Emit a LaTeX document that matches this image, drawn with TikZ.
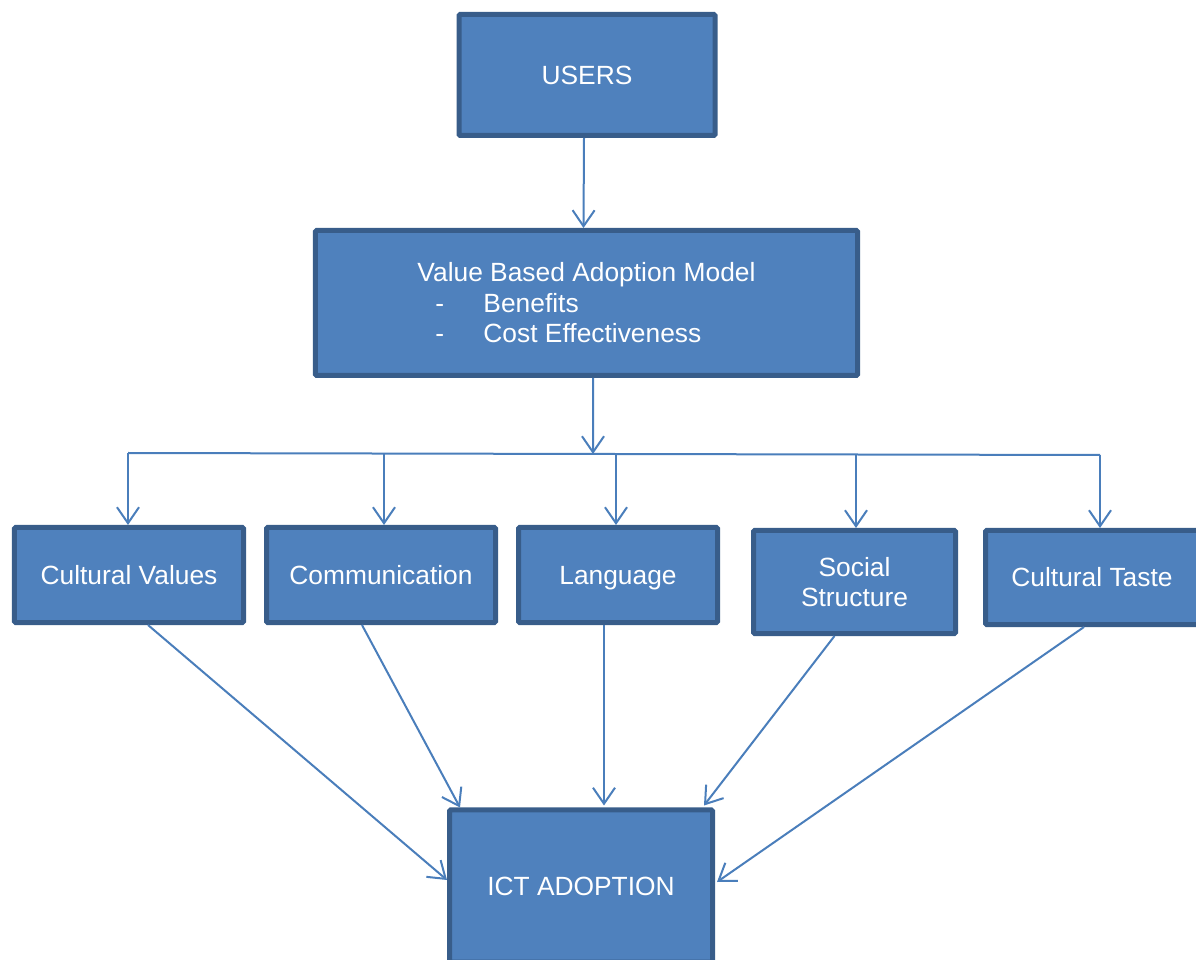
\documentclass[tikz,border=0pt]{standalone}
\usepackage{fontspec}
\setmainfont{Liberation Sans}
\usepackage{xcolor}
\usetikzlibrary{arrows.meta,positioning,calc}
\definecolor{boxfill}{HTML}{4F81BD}
\definecolor{boxline}{HTML}{385D8A}
\definecolor{linkblue}{HTML}{4A7EBB}

\begin{document}
\begin{tikzpicture}[x=0.2mm, y=-0.2mm, font=\fontsize{15}{17.4}\selectfont,
    blockbox/.style={draw=boxline, fill=boxfill, line width=1mm, rounded corners=0.6pt,
        text=white, align=center, inner sep=0pt},
    link/.style={draw=linkblue, line width=0.4mm},
    linkarrow/.style={link, -{Straight Barb[length=3.2mm, width=4.4mm]}}]
        \useasboundingbox (0,0) rectangle (1196,960);

        % Top of the model.
        \node[blockbox, minimum width=51.2mm, minimum height=24.2mm] (users) at (587,75) {USERS};
        \node[blockbox, align=left, minimum width=108.4mm, minimum height=29mm] (vbam) at (586.5,303)
        {Value Based Adoption Model\\
         \makebox[13.2mm][l]{\hspace{3.6mm}-}Benefits\\
         \makebox[13.2mm][l]{\hspace{3.6mm}-}Cost Effectiveness};

        % Cultural factors.
        \node[blockbox, minimum width=45.8mm, minimum height=19mm] (cv) at (129,575) {Cultural Values};
        \node[blockbox, minimum width=45.8mm, minimum height=19mm] (comm) at (381,575) {Communication};
        \node[blockbox, text depth=0pt, minimum width=39.8mm, minimum height=19mm] (lang) at (618,575) {Language};
        \node[blockbox, minimum width=40.4mm, minimum height=20.6mm] (social) at (854.5,582) {Social\\Structure};
        \node[blockbox, minimum width=42.6mm, minimum height=18.8mm] (taste) at (1092,577.5) {Cultural Taste};

        % Outcome.
        \node[blockbox, minimum width=52.6mm, minimum height=30.4mm] (ict) at (581,886) {ICT ADOPTION};

        % Users into the model.
        \draw[linkarrow] ($(users.south)+(-3,0)$) -- ($(vbam.north)+(-3,0)$);

        % Model down to the bus line.
        \coordinate (hub) at (593,454);
        \coordinate (busL) at (128,453);
        \coordinate (busR) at (1100,455);
        \draw[linkarrow] ($(vbam.south)+(6.5,0)$) -- (hub);
        \draw[link] (busL) -- (busR);

        % Bus line to each factor.
        \coordinate (tapB) at (384,453.5);
        \coordinate (tapC) at (616,454);
        \coordinate (tapD) at (856,454.5);
        \draw[linkarrow] (busL) -- (busL |- cv.north);
        \draw[linkarrow] (tapB) -- (tapB |- comm.north);
        \draw[linkarrow] (tapC) -- (tapC |- lang.north);
        \draw[linkarrow] (tapD) -- (tapD |- social.north);
        \draw[linkarrow] (busR) -- (busR |- taste.north);

        % Factors into ICT adoption.
        \draw[linkarrow] ($(cv.south)+(19,0)$) -- ($(ict.west)+(0,-6)$);
        \draw[linkarrow] ($(comm.south)+(-19,0)$) -- ($(ict.north west)+(13,0)$);
        \draw[linkarrow] ($(lang.south)+(-14,0)$) -- ($(ict.north)+(23,-2)$);
        \draw[linkarrow] ($(social.south)+(-20,0)$) -- ($(ict.north east)+(-11,-2)$);
        \draw[linkarrow] ($(taste.south)+(-8,0)$) -- ($(ict.east)+(2,-4)$);
    \end{tikzpicture}
\end{document}
